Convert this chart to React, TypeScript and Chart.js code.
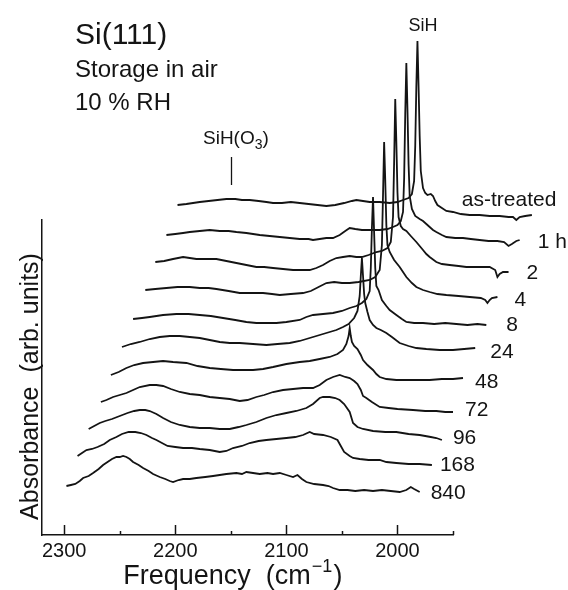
import { useEffect, useRef } from 'react';
import { Chart, registerables } from 'chart.js';

Chart.register(...registerables);

const FONT = '"Liberation Sans", Arial, Helvetica, sans-serif';
const INK = '#141414';

// Trace names, back (top) to front (bottom)
const TRACE_LABELS = ['as-treated', '1 h', '2', '4', '8', '24', '48', '72', '96', '168', '840'];

// Spectra: [frequency (cm-1), absorbance (arb. units, relative to spectrum start)]
const AS_TREATED = [
  [2298, 1], [2290, 2], [2284, 3], [2278, 4], [2270, 5], [2262, 6], [2254, 7], [2246, 7], [2240, 6], [2233, 6],
  [2225, 5], [2218, 4], [2212, 3], [2204, 3], [2196, 4], [2188, 3], [2180, 2], [2172, 1], [2164, 0], [2156, 1],
  [2148, 3], [2141, 5], [2137, 6], [2131, 5], [2125, 4], [2116, 4], [2107, 3], [2100, 4], [2095, 6], [2090, 8],
  [2087, 12], [2085, 25], [2084, 60], [2083, 120], [2082, 165], [2081, 120], [2080, 70], [2079, 35], [2077, 18],
  [2075, 13], [2073, 11], [2070, 12], [2068, 10], [2066, 5], [2064, 1], [2060, -2], [2056, -5], [2050, -6],
  [2043, -8], [2035, -9], [2026, -9], [2017, -10], [2008, -10], [2000, -11], [1996, -11], [1993, -14],
  [1990, -11], [1985, -10], [1979, -9],
];
const H1 = [
  [2298, -1], [2290, 0], [2283, 1], [2277, 2], [2268, 3], [2259, 4], [2250, 3], [2242, 3], [2235, 2], [2226, 1],
  [2220, 0], [2214, -1], [2205, -2], [2196, -3], [2187, -4], [2178, -5], [2170, -5], [2166, -6], [2160, -5],
  [2154, -4], [2148, -4], [2142, -1], [2137, 3], [2133, 6], [2128, 5], [2122, 4], [2118, 4], [2112, 4], [2106, 4],
  [2099, 5], [2094, 7], [2090, 9], [2087, 13], [2085, 22], [2084, 55], [2083, 120], [2082, 171], [2081, 125],
  [2080, 70], [2079, 38], [2077, 25], [2074, 18], [2070, 15], [2067, 13], [2064, 10], [2061, 7], [2058, 4],
  [2055, 2], [2050, -1], [2046, -3], [2038, -4], [2031, -4], [2024, -5], [2016, -6], [2008, -7], [2000, -7],
  [1994, -8], [1990, -12], [1987, -10], [1983, -7], [1980, -6],
];
const H2 = [
  [2298, 0], [2290, 1], [2282, 3], [2273, 5], [2267, 4], [2261, 3], [2252, 3], [2243, 3], [2234, 1], [2225, -1],
  [2216, -3], [2207, -5], [2200, -5], [2192, -6], [2183, -7], [2174, -8], [2166, -8], [2159, -8], [2153, -6],
  [2147, -3], [2141, 1], [2135, 4], [2129, 5], [2123, 6], [2117, 5], [2112, 5], [2106, 7], [2099, 10], [2094, 11],
  [2089, 14], [2086, 20], [2084, 45], [2083, 100], [2082, 163], [2081, 120], [2080, 70], [2079, 45], [2077, 36],
  [2075, 33], [2072, 31], [2068, 26], [2063, 20], [2060, 16], [2057, 12], [2054, 8], [2051, 5], [2045, 0],
  [2040, -2], [2033, -3], [2025, -4], [2018, -5], [2010, -5], [2003, -5], [1997, -5], [1992, -8], [1990, -15],
  [1988, -12], [1985, -10], [1980, -10],
];
const H4 = [
  [2297, 0], [2288, 1], [2278, 2], [2268, 3], [2257, 3], [2248, 2], [2240, 2], [2233, 1], [2222, -1], [2212, -3],
  [2202, -3], [2191, -3], [2183, -4], [2176, -5], [2166, -4], [2155, -3], [2148, -1], [2141, 3], [2134, 7],
  [2127, 8], [2120, 7], [2113, 7], [2105, 8], [2095, 10], [2090, 13], [2086, 20], [2084, 45], [2083, 95],
  [2082, 148], [2081, 110], [2080, 65], [2079, 45], [2077, 38], [2073, 30], [2068, 23], [2062, 13], [2057, 7],
  [2053, 3], [2047, 0], [2041, -2], [2034, -4], [2026, -5], [2015, -6], [2005, -7], [1995, -8], [1991, -10],
  [1989, -13], [1987, -10], [1985, -8], [1980, -7],
];
const H8 = [
  [2298, -1], [2290, 0], [2283, 1], [2271, 3], [2259, 4], [2248, 4], [2238, 3], [2228, 2], [2217, 0], [2206, -2],
  [2196, -4], [2187, -5], [2178, -5], [2169, -5], [2160, -4], [2148, -2], [2142, 1], [2136, 3], [2127, 4],
  [2118, 5], [2110, 7], [2103, 10], [2097, 12], [2092, 15], [2088, 19], [2085, 27], [2084, 50], [2083, 90],
  [2082, 121], [2081, 85], [2080, 50], [2079, 32], [2077, 28], [2074, 18], [2070, 12], [2067, 8], [2061, 3],
  [2056, -1], [2052, -4], [2045, -5], [2037, -5], [2027, -6], [2017, -5], [2007, -6], [1997, -7], [1988, -6],
  [1980, -7],
];
const H24 = [
  [2298, -1], [2290, 2], [2282, 4], [2273, 7], [2264, 9], [2255, 10], [2246, 10], [2237, 9], [2228, 8], [2219, 6],
  [2210, 4], [2201, 3], [2192, 3], [2180, 2], [2168, 1], [2158, 2], [2147, 3], [2138, 5], [2129, 8], [2120, 11],
  [2111, 14], [2105, 16], [2099, 19], [2094, 22], [2089, 28], [2086, 35], [2084, 50], [2083, 70], [2082, 88],
  [2081, 70], [2080, 52], [2079, 43], [2077, 34], [2075, 26], [2072, 21], [2069, 18], [2065, 16], [2060, 13],
  [2055, 9], [2048, 3], [2040, 0], [2033, -2], [2024, -3], [2012, -4], [2000, -4], [1990, -3], [1980, -2],
];
const H48 = [
  [2298, -1], [2291, 2], [2284, 6], [2277, 9], [2269, 11], [2260, 12], [2251, 13], [2242, 12], [2230, 11],
  [2220, 8], [2209, 6], [2199, 5], [2188, 4], [2179, 4], [2170, 4], [2161, 5], [2152, 7], [2140, 10], [2128, 12],
  [2119, 13], [2110, 15], [2101, 17], [2094, 20], [2089, 24], [2086, 30], [2084, 38], [2083, 46], [2082, 38],
  [2081, 32], [2079, 28], [2076, 25], [2073, 19], [2071, 14], [2067, 9], [2062, 4], [2059, 0], [2056, -3],
  [2050, -5], [2041, -6], [2030, -6], [2020, -6], [2011, -6], [2000, -5], [1990, -5], [1981, -4],
];
const H72 = [
  [2297, 0], [2292, 2], [2286, 5], [2280, 7], [2274, 9], [2268, 12], [2262, 15], [2253, 17], [2247, 17],
  [2241, 16], [2234, 13], [2226, 10], [2217, 8], [2208, 7], [2199, 5], [2190, 4], [2181, 3], [2172, 1], [2165, 2],
  [2157, 5], [2150, 7], [2142, 10], [2133, 12], [2124, 13], [2115, 14], [2106, 14], [2100, 17], [2094, 22],
  [2088, 25], [2082, 27], [2077, 25], [2073, 24], [2069, 21], [2066, 18], [2063, 12], [2061, 6], [2058, 4],
  [2053, 0], [2046, -5], [2038, -6], [2030, -7], [2016, -8], [2005, -9], [1995, -9], [1987, -10], [1980, -10],
];
const H96 = [
  [2298, 1], [2293, 4], [2288, 7], [2283, 9], [2277, 11], [2270, 14], [2263, 17], [2257, 19], [2252, 20],
  [2247, 20], [2243, 19], [2237, 16], [2231, 12], [2224, 8], [2216, 5], [2207, 3], [2198, 2], [2189, 2], [2180, 1],
  [2171, 1], [2163, 3], [2156, 5], [2147, 8], [2138, 12], [2129, 15], [2120, 17], [2111, 19], [2102, 22],
  [2096, 26], [2090, 32], [2087, 33], [2081, 33], [2076, 32], [2072, 30], [2068, 26], [2063, 18], [2060, 7],
  [2056, 3], [2051, 1], [2042, -1], [2031, -2], [2021, -2], [2010, -4], [2000, -5], [1990, -7], [1985, -8],
  [1980, -10],
];
const H168 = [
  [2298, 2], [2294, 5], [2290, 8], [2285, 9], [2280, 11], [2274, 14], [2269, 18], [2263, 21], [2258, 24],
  [2252, 26], [2246, 26], [2241, 25], [2236, 23], [2231, 20], [2227, 18], [2222, 15], [2217, 12], [2210, 11],
  [2203, 10], [2195, 10], [2188, 9], [2179, 8], [2170, 6], [2164, 7], [2158, 10], [2150, 12], [2143, 15],
  [2135, 17], [2128, 18], [2119, 19], [2110, 20], [2102, 21], [2095, 23], [2089, 26], [2085, 24], [2077, 23],
  [2070, 21], [2064, 18], [2061, 12], [2058, 6], [2053, 2], [2050, 0], [2044, -1], [2036, -2], [2026, -2],
  [2020, -4], [2011, -5], [2000, -6], [1990, -6], [1979, -7],
];
const H840 = [
  [2298, 0], [2294, 1], [2290, 2], [2286, 5], [2283, 8], [2278, 10], [2274, 13], [2269, 17], [2265, 21],
  [2261, 24], [2257, 27], [2253, 29], [2250, 29], [2247, 30], [2244, 29], [2241, 27], [2238, 24], [2233, 21],
  [2229, 18], [2224, 15], [2220, 12], [2214, 9], [2209, 7], [2205, 5], [2202, 4], [2197, 6], [2193, 7], [2187, 7],
  [2181, 8], [2173, 9], [2166, 10], [2160, 11], [2154, 12], [2145, 13], [2140, 12], [2136, 14], [2130, 13],
  [2124, 12], [2117, 13], [2112, 12], [2106, 13], [2100, 11], [2094, 9], [2090, 11], [2086, 7], [2082, 4],
  [2075, 2], [2067, 1], [2062, 0], [2058, -2], [2052, -4], [2045, -4], [2038, -5], [2030, -4], [2022, -5],
  [2014, -4], [2006, -5], [1998, -6], [1992, -4], [1988, -1], [1985, -3], [1980, -6],
];

const SPECTRA = [AS_TREATED, H1, H2, H4, H8, H24, H48, H72, H96, H168, H840];

// Waterfall stacking: each step back shifts the spectrum by these amounts
const STACK_SHIFT_X = 10; // cm-1 toward lower frequency
const STACK_SHIFT_Y = 28; // arb. units upward
const STACK_BASE = 49;

const X_TICKS = [2300, 2200, 2100, 2000];
const X_MINOR_TICKS = [2250, 2150, 2050, 1950];

// label placement (pixels relative to the end of each trace)
const LABEL_DX = [-70, 18, 18, 17, 20, 15, 12, 12, 11, 8, 11];
const LABEL_DY = [-15, 2, 1, 3, 0, 4, 4, -2, -2, 0, 1];

const annotations = {
  id: 'annotations',
  afterDraw(chart: any) {
    const ctx = chart.ctx;
    const xs = chart.scales.x;
    const area = chart.chartArea;
    ctx.save();
    ctx.fillStyle = INK;
    ctx.strokeStyle = INK;

    // inward tick marks
    ctx.lineWidth = 1.5;
    const tick = (v: number, len: number) => {
      const px = Math.round(xs.getPixelForValue(v)) + 0.5;
      ctx.beginPath();
      ctx.moveTo(px, area.bottom);
      ctx.lineTo(px, area.bottom - len);
      ctx.stroke();
    };
    X_TICKS.forEach((v) => tick(v, 10));
    X_MINOR_TICKS.forEach((v) => tick(v, 4));

    // trace labels
    ctx.font = `21px ${FONT}`;
    ctx.textAlign = 'left';
    ctx.textBaseline = 'middle';
    chart.data.datasets.forEach((_ds: any, i: number) => {
      const meta = chart.getDatasetMeta(i);
      const last = meta.data[meta.data.length - 1];
      ctx.fillText(TRACE_LABELS[i], last.x + LABEL_DX[i], last.y + LABEL_DY[i]);
    });

    // title block
    ctx.textBaseline = 'alphabetic';
    ctx.font = `30px ${FONT}`;
    ctx.fillText('Si(111)', 75, 44);
    ctx.font = `24px ${FONT}`;
    ctx.fillText('Storage in air', 75, 77);
    ctx.fillText('10 % RH', 75, 110);

    // SiH label
    ctx.font = `18px ${FONT}`;
    ctx.textAlign = 'center';
    ctx.fillText('SiH', 423, 31);

    // SiH(O3) label with marker
    ctx.textAlign = 'left';
    ctx.font = `19px ${FONT}`;
    const mx = xs.getPixelForValue(2150);
    let tx = 203;
    ctx.fillText('SiH(O', tx, 144);
    tx += ctx.measureText('SiH(O').width;
    ctx.font = `14px ${FONT}`;
    ctx.fillText('3', tx, 149);
    tx += ctx.measureText('3').width;
    ctx.font = `19px ${FONT}`;
    ctx.fillText(')', tx, 144);
    ctx.lineWidth = 1.3;
    ctx.beginPath();
    ctx.moveTo(Math.round(mx) + 0.5, 157);
    ctx.lineTo(Math.round(mx) + 0.5, 185);
    ctx.stroke();

    // x-axis title with superscript
    const partA = 'Frequency  (cm';
    const partB = '\u22121';
    const partC = ')';
    ctx.font = `27px ${FONT}`;
    const wA = ctx.measureText(partA).width;
    const wC = ctx.measureText(partC).width;
    ctx.font = `18px ${FONT}`;
    const wB = ctx.measureText(partB).width;
    const total = wA + wB + wC + 2;
    let sx = xs.getPixelForValue(2150) + 2 - total / 2;
    ctx.font = `27px ${FONT}`;
    ctx.fillText(partA, sx, 584);
    sx += wA + 1;
    ctx.font = `18px ${FONT}`;
    ctx.fillText(partB, sx, 572);
    sx += wB + 1;
    ctx.font = `27px ${FONT}`;
    ctx.fillText(partC, sx, 584);

    // y-axis title
    ctx.save();
    ctx.translate(38, (area.top + area.bottom) / 2 + 9);
    ctx.rotate(-Math.PI / 2);
    ctx.textAlign = 'center';
    ctx.font = `25px ${FONT}`;
    ctx.fillText('Absorbance  (arb. units)', 0, 0);
    ctx.restore();

    ctx.restore();
  },
};

export default function App() {
  const canvasRef = useRef<HTMLCanvasElement | null>(null);

  useEffect(() => {
    document.body.style.margin = '0';
    const canvas = canvasRef.current;
    if (!canvas) return;
    const n = SPECTRA.length;
    const datasets = SPECTRA.map((spec, i) => {
      const depth = n - 1 - i;
      return {
        label: TRACE_LABELS[i],
        data: spec.map(([f, a]) => ({
          x: f - depth * STACK_SHIFT_X,
          y: STACK_BASE + depth * STACK_SHIFT_Y + a,
        })),
        borderColor: INK,
        borderWidth: 1.8,
        pointRadius: 0,
        tension: 0,
        fill: false,
        clip: false as any,
      };
    });

    const chart = new Chart(canvas, {
      type: 'line',
      data: { datasets },
      options: {
        animation: false,
        responsive: false,
        maintainAspectRatio: false,
        layout: { padding: { top: 220, right: 115, left: 0, bottom: 0 } },
        plugins: { legend: { display: false }, tooltip: { enabled: false } },
        scales: {
          x: {
            type: 'linear',
            reverse: true,
            min: 1950,
            max: 2320,
            afterFit: (s: any) => {
              s.height = 55;
            },
            afterBuildTicks: (s: any) => {
              s.ticks = X_TICKS.map((v) => ({ value: v }));
            },
            ticks: {
              font: { family: FONT, size: 20 },
              color: INK,
              padding: 4,
              maxRotation: 0,
              autoSkip: false,
              callback: (v: any) => String(v),
            },
            grid: { display: true, drawOnChartArea: false, drawTicks: false },
            border: { display: true, color: INK, width: 1.5 },
          },
          y: {
            type: 'linear',
            min: 0,
            max: 315,
            afterFit: (s: any) => {
              s.width = 42;
            },
            ticks: { display: false },
            grid: { display: true, drawOnChartArea: false, drawTicks: false },
            border: { display: true, color: INK, width: 1.5 },
          },
        },
      },
      plugins: [annotations],
    });
    return () => chart.destroy();
  }, []);

  return (
    <div style={{ width: 568, height: 590, background: '#fff' }}>
      <canvas ref={canvasRef} width={568} height={590} style={{ display: 'block' }} />
    </div>
  );
}
